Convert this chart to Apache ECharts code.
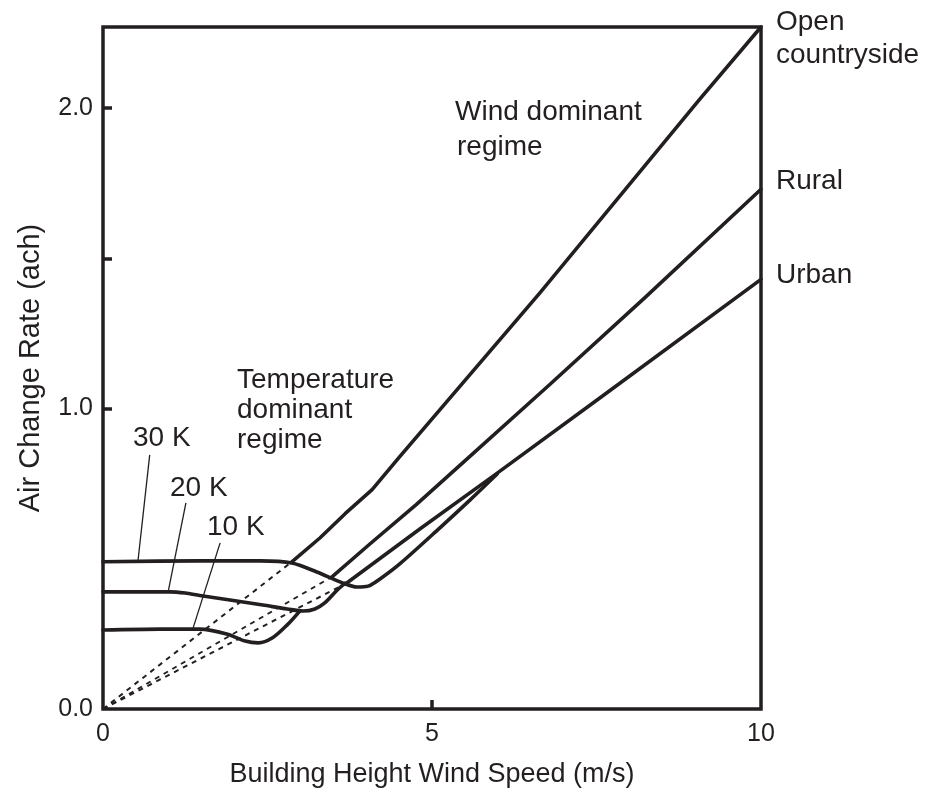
<!DOCTYPE html>
<html>
<head>
<meta charset="utf-8">
<script src="https://cdn.jsdelivr.net/npm/echarts@6/dist/echarts.min.js"></script>
<style>
  html, body { margin: 0; padding: 0; background: #ffffff; }
  #chart { width: 931px; height: 796px; }
</style>
</head>
<body>
<div id="chart"></div>
<script>
// ---- Data (x: wind speed m/s, y: air change rate ach) ----
const xTickValues = [5];
const xLabelValues = [0, 5, 10];
const yTickValues = [1, 1.5, 2];
const yLabelValues = [0, 1, 2];

// wind dominant lines (solid part)
const openCountryside = [[2.87,0.49],[3.30,0.57],[3.68,0.65],[4.09,0.73],[4.51,0.84],[6.64,1.385],[9.07,2.03],[10,2.27]];
const rural = [[3.48,0.44],[4.06,0.55],[4.76,0.68],[5.47,0.82],[6.79,1.08],[8.24,1.37],[10,1.73]];
const urban = [[3.71,0.42],[4.82,0.60],[5.96,0.78],[7.55,1.035],[10,1.43]];

// wind-only lines (dashed, hidden under the temperature regime)
const openDashed = [[0,0],[2.87,0.49]];
const ruralDashed = [[0,0],[3.48,0.44]];
const urbanDashed = [[0,0],[3.71,0.42]];

// temperature dominant curves
const temp30K = [[0,0.49],[1.47,0.493],[2.39,0.493],[2.87,0.486],[3.25,0.456],[3.65,0.419],[3.86,0.406],[4.03,0.409],[4.21,0.433],[4.51,0.483],[5.12,0.603],[5.58,0.696],[5.99,0.782]];
const temp20K = [[0,0.39],[1.02,0.39],[1.25,0.386],[1.47,0.378],[1.93,0.363],[2.43,0.346],[2.80,0.333],[3.04,0.326],[3.22,0.333],[3.37,0.353],[3.56,0.396],[3.68,0.419]];
const temp10K = [[0,0.263],[0.87,0.266],[1.47,0.266],[1.88,0.25],[2.16,0.226],[2.36,0.22],[2.57,0.236],[2.80,0.28],[2.99,0.326]];

// label leader lines
const pointer30K = [[0.71,0.846],[0.53,0.49]];
const pointer20K = [[1.26,0.686],[0.99,0.39]];
const pointer10K = [[1.78,0.553],[1.37,0.27]];

const INK = '#231f20';
const FONT = '"Liberation Sans", Arial, Helvetica, sans-serif';

function solid(data, smooth) {
  return { type: 'line', data: data, symbol: 'none', smooth: smooth || false, z: 3,
    lineStyle: { color: INK, width: 3.6, cap: 'round', join: 'round' } };
}
function dashed(data) {
  return { type: 'line', data: data, symbol: 'none', z: 2,
    lineStyle: { color: INK, width: 2, type: [5, 5] } };
}
function thin(data) {
  return { type: 'line', data: data, symbol: 'none', z: 2,
    lineStyle: { color: INK, width: 1.3 } };
}
function txt(text, x, y) {
  return { type: 'text', x: x, y: y, z: 10,
    style: { text: text, font: '28px ' + FONT, fill: INK, verticalAlign: 'middle' } };
}

const chart = echarts.init(document.getElementById('chart'), null, { renderer: 'canvas' });
chart.setOption({
  animation: false,
  backgroundColor: '#ffffff',
  grid: { left: 103, right: 170, top: 27, bottom: 87, show: true, borderColor: INK, borderWidth: 3.5, backgroundColor: 'transparent' },
  xAxis: {
    type: 'value', min: 0, max: 10,
    name: 'Building Height Wind Speed (m/s)', nameLocation: 'middle', nameGap: 52,
    nameTextStyle: { fontSize: 27, color: INK, fontFamily: FONT },
    axisLine: { show: false },
    axisTick: { show: true, inside: true, length: 9, customValues: xTickValues, lineStyle: { color: INK, width: 3.5 } },
    axisLabel: { customValues: xLabelValues, fontSize: 25, color: INK, fontFamily: FONT, margin: 13 },
    splitLine: { show: false }
  },
  yAxis: {
    type: 'value', min: 0, max: 2.27,
    name: 'Air Change Rate (ach)', nameLocation: 'middle', nameGap: 58, nameRotate: 90,
    nameTextStyle: { fontSize: 29, color: INK, fontFamily: FONT },
    axisLine: { show: false },
    axisTick: { show: true, inside: true, length: 9, customValues: yTickValues, lineStyle: { color: INK, width: 3.5 } },
    axisLabel: { customValues: yLabelValues, fontSize: 25, color: INK, fontFamily: FONT, margin: 10,
      formatter: function (v) { return Number(v).toFixed(1); } },
    splitLine: { show: false }
  },
  series: [
    dashed(openDashed), dashed(ruralDashed), dashed(urbanDashed),
    solid(openCountryside), solid(rural), solid(urban),
    solid(temp30K, 0.3), solid(temp20K, 0.3), solid(temp10K, 0.3),
    thin(pointer30K), thin(pointer20K), thin(pointer10K)
  ],
  graphic: [
    txt('Wind dominant', 455, 112),
    txt('regime', 457, 147),
    txt('Temperature', 237, 380),
    txt('dominant', 237, 410),
    txt('regime', 237, 440),
    txt('30 K', 133, 438),
    txt('20 K', 170, 488),
    txt('10 K', 207, 527),
    txt('Open', 776, 22),
    txt('countryside', 776, 55),
    txt('Rural', 776, 181),
    txt('Urban', 776, 275)
  ]
});
</script>
</body>
</html>
